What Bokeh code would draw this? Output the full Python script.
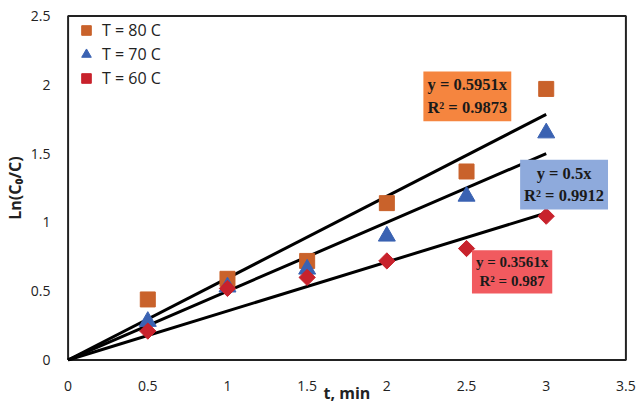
import numpy as np
from bokeh.plotting import figure
from bokeh.models import Label, FixedTicker, Legend, LegendItem
from bokeh.embed import file_html
from bokeh.resources import INLINE

# ---- data ----
t_min = [0.5, 1.0, 1.5, 2.0, 2.5, 3.0]
ln_80 = [0.44, 0.59, 0.72, 1.14, 1.37, 1.97]
ln_70 = [0.28, 0.53, 0.66, 0.90, 1.19, 1.65]
ln_60 = [0.21, 0.52, 0.60, 0.72, 0.81, 1.045]
series_names = ["T = 80 C", "T = 70 C", "T = 60 C"]
slopes = [0.5951, 0.5, 0.3561]
r2_values = [0.9873, 0.9912, 0.987]
fit_x = [0.0, 3.0]
x_ticks = [0, 0.5, 1, 1.5, 2, 2.5, 3, 3.5]
x_tick_labels = ["0", "0.5", "1", "1.5", "2", "2.5", "3", "3.5"]
y_ticks = [0, 0.5, 1, 1.5, 2, 2.5]
y_tick_labels = ["0", "0.5", "1", "1.5", "2", "2.5"]

marker_colors = ["#C9622B", "#3A62B2", "#C8222C"]
box_colors = ["#F5853F", "#8EAADC", "#F15A5F"]
frame_color = "#222222"

x_lo, x_hi = x_ticks[0], x_ticks[-1]
y_lo, y_hi = y_ticks[0], y_ticks[-1]
# tiny margin (about 1.5 px) so the plot-area border is not clipped
x_pad = 0.01
y_pad = 0.011

p = figure(width=636, height=406, x_range=(x_lo - x_pad, x_hi + x_pad),
           y_range=(y_lo - y_pad, y_hi + y_pad),
           output_backend="svg", toolbar_location=None,
           min_border_left=66, min_border_right=9, min_border_top=14, min_border_bottom=42)
p.background_fill_color = "white"
p.border_fill_color = "white"
p.outline_line_color = None
p.xgrid.grid_line_color = None
p.ygrid.grid_line_color = None

for ax in (p.xaxis[0], p.yaxis[0]):
    ax.axis_line_color = None
    ax.major_tick_line_color = None
    ax.minor_tick_line_color = None
    ax.major_label_text_font = "Open Sans"
    ax.major_label_text_font_size = "14px"
    ax.major_label_text_color = "#222222"
    ax.axis_label_text_font = "Open Sans"
    ax.axis_label_text_font_size = "16px"
    ax.axis_label_text_font_style = "bold"
    ax.axis_label_text_color = "#222222"

p.xaxis.ticker = FixedTicker(ticks=x_ticks)
p.yaxis.ticker = FixedTicker(ticks=y_ticks)
p.xaxis.major_label_overrides = {tk: lb for tk, lb in zip(x_ticks, x_tick_labels)}
p.yaxis.major_label_overrides = {tk: lb for tk, lb in zip(y_ticks, y_tick_labels)}
p.xaxis.major_label_standoff = 13
p.yaxis.major_label_standoff = 10
p.xaxis.axis_label = "t, min"
p.yaxis.axis_label = "Ln(C\u2080/C)"
p.xaxis.axis_label_standoff = -12
p.yaxis.axis_label_standoff = 2

# plot-area border along the axis limits, drawn as a closed line
p.line([x_lo, x_hi, x_hi, x_lo, x_lo], [y_lo, y_lo, y_hi, y_hi, y_lo],
       line_color=frame_color, line_width=2)

# fitted lines
fx = np.array(fit_x)
for s in slopes:
    p.line(fx, s * fx, line_color="black", line_width=3)

# markers
r80 = p.scatter(t_min, ln_80, marker="square", size=15, fill_color=marker_colors[0],
                line_color=marker_colors[0])
r70 = p.scatter(t_min, ln_70, marker="triangle", size=17, fill_color=marker_colors[1],
                line_color=marker_colors[1])
r60 = p.scatter(t_min, ln_60, marker="square", angle=np.pi / 4, size=11.5,
                fill_color=marker_colors[2], line_color=marker_colors[2])

legend = Legend(items=[LegendItem(label=series_names[0], renderers=[r80]),
                       LegendItem(label=series_names[1], renderers=[r70]),
                       LegendItem(label=series_names[2], renderers=[r60])],
                location="top_left", margin=4, padding=4, spacing=0,
                glyph_width=32, glyph_height=24, label_height=24, label_standoff=-12,
                border_line_color=None, background_fill_alpha=0,
                label_text_font="Open Sans", label_text_font_size="16px",
                label_text_color="#222222")
p.add_layout(legend)

# equation boxes
box_pos = [(2.505, 1.916), (3.112, 1.275), (2.786, 0.641)]
box_font = ["16.5px", "16.5px", "15px"]
for (bx, by), s, r2, col, fs in zip(box_pos, slopes, r2_values, box_colors, box_font):
    p.add_layout(Label(x=bx, y=by, text=f"y = {s}x\nR\u00b2 = {r2}",
                       text_font="Liberation Serif", text_font_style="bold",
                       text_font_size=fs, text_align="center", text_baseline="middle",
                       text_color="#1a1a1a", background_fill_color=col, padding=4))

open("out.html", "w").write(file_html(p, INLINE))
